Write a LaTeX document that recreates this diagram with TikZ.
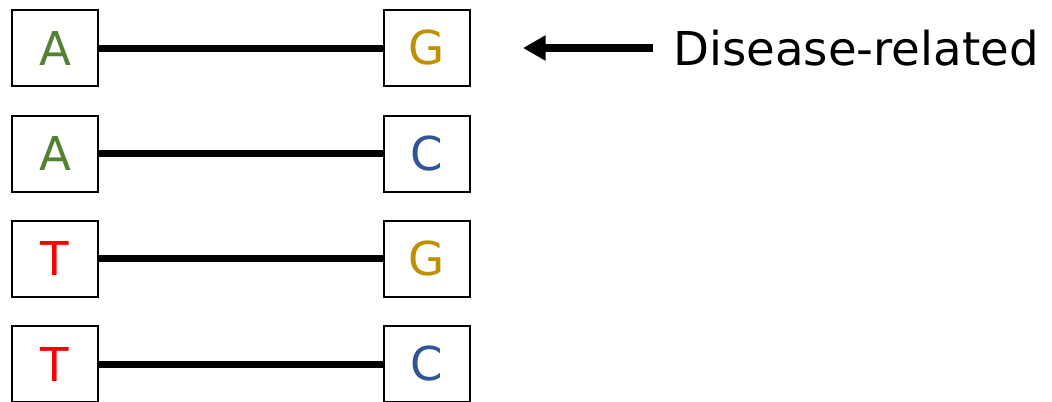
\documentclass[tikz,border=0pt]{standalone}
\usepackage{fontspec}
\setmainfont{DejaVu Sans}
\usetikzlibrary{arrows.meta}
\definecolor{cA}{HTML}{548235}
\definecolor{cG}{HTML}{BF9000}
\definecolor{cC}{HTML}{2F5597}
\definecolor{cT}{HTML}{FF0000}
\tikzset{
  base/.style={draw=black, line width=1.5pt, fill=white, minimum width=64.5pt, minimum height=57pt, inner sep=0pt, outer sep=0pt, font=\fontsize{35}{40}\selectfont},
  bond/.style={line width=5.25pt},
  pointer/.style={line width=6pt, -{Triangle[length=17pt,width=18pt]}}
}
\begin{document}
\begin{tikzpicture}[x=0.75pt,y=-0.75pt]
\useasboundingbox (0,0) rectangle (1052,401);
\foreach \i/\y/\l/\lc/\r/\rc in {1/48/A/cA/G/cG, 2/153.5/A/cA/C/cC, 3/258.5/T/cT/G/cG, 4/364/T/cT/C/cC}{
  \node[base, text=\lc] (L\i) at (55,\y) {\l};
  \node[base, text=\rc] (R\i) at (427,\y) {\r};
  \draw[bond] (L\i.east) -- (R\i.west);
}
\node[anchor=base west, inner sep=0pt, font=\fontsize{35}{40}\selectfont] (lbl) at (673,65.5) {Disease-related};
\coordinate (tail) at (653,48);
\coordinate (tip) at (523,48);
\draw[pointer] (tail) -- (tip);
\end{tikzpicture}
\end{document}
